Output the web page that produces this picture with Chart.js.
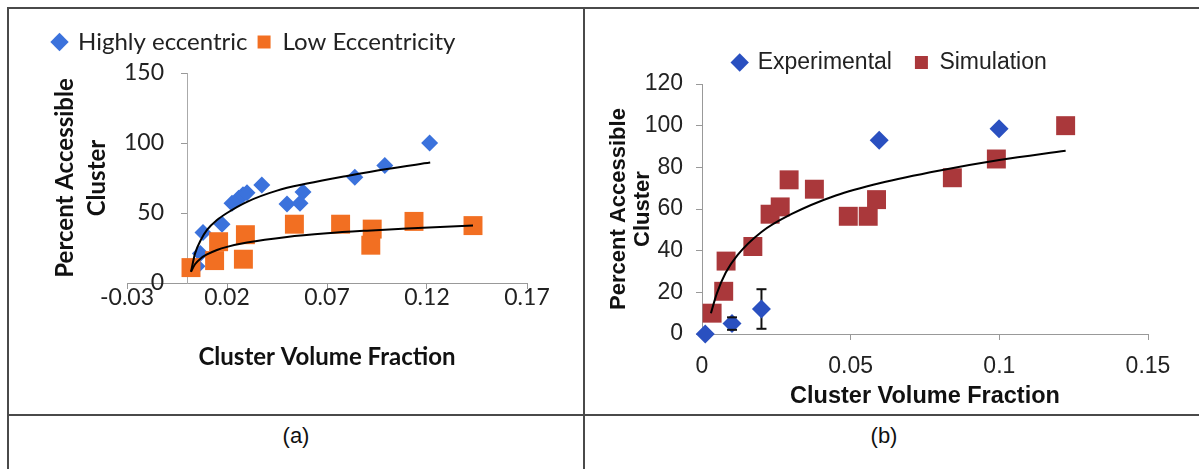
<!DOCTYPE html>
<html>
<head>
<meta charset="utf-8">
<script src="https://cdn.jsdelivr.net/npm/chart.js@4.4.1/dist/chart.umd.min.js"></script>
<style>
  html, body { margin: 0; padding: 0; background: #fff; overflow: hidden; }
  body { width: 1199px; height: 469px; position: relative; }
  .rule { position: absolute; background: #4a4a4a; }
  .cell { position: absolute; }
  .caption { position: absolute; font-family: "Liberation Sans", Arial, sans-serif; font-size: 22px; color: #111; transform: translateX(-50%); }
</style>
</head>
<body>
<div class="rule" style="left:7px;top:7px;width:1192px;height:2px"></div>
<div class="rule" style="left:7px;top:7px;width:2px;height:462px"></div>
<div class="rule" style="left:583px;top:7px;width:2px;height:462px"></div>
<div class="rule" style="left:7px;top:414px;width:1192px;height:2px"></div>

<div class="cell" style="left:10px;top:10px;width:572px;height:403px"><canvas id="chartA"></canvas></div>
<div class="cell" style="left:586px;top:10px;width:613px;height:403px"><canvas id="chartB"></canvas></div>

<div class="caption" style="left:296px;top:423px">(a)</div>
<div class="caption" style="left:884px;top:423px">(b)</div>

<script>
// panel (a)
const highX = [0.005, 0.0067, 0.008, 0.0175, 0.0225, 0.0258, 0.028, 0.030, 0.0374, 0.050, 0.0565, 0.058, 0.0839, 0.0989, 0.1213];
const highY = [12, 21, 36, 42, 57, 60.5, 63, 64.5, 70, 56.5, 57, 65, 75.5, 84, 100];
const lowX = [0.002, 0.0138, 0.0158, 0.0282, 0.0292, 0.0537, 0.0768, 0.0926, 0.0919, 0.1135, 0.143];
const lowY = [11, 16, 29.5, 17, 34.5, 42, 42, 38.5, 27, 44, 41];
// trend lines
const highFitX = [0.002, 0.004, 0.007, 0.01, 0.015, 0.02, 0.03, 0.045, 0.06, 0.08, 0.1, 0.1216];
const highFitY = [8, 21, 31, 38, 45, 50, 58, 66, 71, 76.5, 81.5, 86];
const lowFitX = [0.002, 0.004, 0.007, 0.01, 0.015, 0.02, 0.03, 0.05, 0.07, 0.09, 0.11, 0.143];
const lowFitY = [8, 13.4, 17.7, 20.4, 23.6, 25.8, 28.9, 32.9, 35.5, 37.4, 39, 41];
const xTicksA = [-0.03, 0.02, 0.07, 0.12, 0.17];

// panel (b)
const expX = [0.0011, 0.0101, 0.020, 0.0596, 0.0999];
const expY = [0, 5, 12, 93, 98.5];
const expErr = [0, 3, 9.5, 0, 0];
const simX = [0.0034, 0.0073, 0.0081, 0.0171, 0.0229, 0.0263, 0.0293, 0.0378, 0.0492, 0.0559, 0.0587, 0.0842, 0.099, 0.1223];
const simY = [10, 20.5, 35, 42, 57.5, 61, 74, 69.5, 56.5, 56.5, 64.5, 75, 84, 100];
const simFitX = [0.003, 0.005, 0.008, 0.012, 0.02, 0.03, 0.045, 0.06, 0.08, 0.1, 0.1223];
const simFitY = [10, 19.5, 29.5, 38, 49, 57.5, 66.5, 72.5, 78.5, 83.5, 88];
const xTicksB = [0, 0.05, 0.1, 0.15];

const pts = (xs, ys) => xs.map((x, i) => ({ x: x, y: ys[i] }));

const calibri = "Lato";
const arial = "'Liberation Sans', Arial, sans-serif";

const fitLine = (data) => ({
  label: "fit",
  data: data,
  showLine: true,
  borderColor: "#000",
  borderWidth: 2,
  pointRadius: 0,
  cubicInterpolationMode: "monotone",
  order: 0,
});

new Chart(document.getElementById("chartA"), {
  type: "scatter",
  data: {
    datasets: [
      fitLine(pts(highFitX, highFitY)),
      fitLine(pts(lowFitX, lowFitY)),
      {
        label: "Highly eccentric",
        data: pts(highX, highY),
        pointStyle: "rectRot",
        pointRadius: 8.5,
        backgroundColor: "#3b72dc",
        borderWidth: 0,
        clip: false,
        order: 2,
      },
      {
        label: "Low Eccentricity",
        data: pts(lowX, lowY),
        pointStyle: "rect",
        pointRadius: 13.4,
        backgroundColor: "#f26f22",
        borderWidth: 0,
        clip: false,
        order: 1,
      },
    ],
  },
  options: {
    responsive: true,
    maintainAspectRatio: false,
    animation: false,
    events: [],
    layout: { padding: { left: 33, right: 55, top: 10, bottom: 41 } },
    plugins: {
      tooltip: { enabled: false },
      legend: {
        position: "top",
        align: "start",
        labels: {
          usePointStyle: true,
          boxWidth: 13,
          boxHeight: 13,
          padding: 10,
          color: "#222",
          font: { family: calibri, size: 24 },
          filter: (item) => item.datasetIndex >= 2,
          sort: (a, b) => a.datasetIndex - b.datasetIndex,
        },
      },
    },
    scales: {
      x: {
        axis: "x",
        type: "linear",
        position: "bottom",
        min: -0.03,
        max: 0.17,
        afterBuildTicks: (s) => { s.ticks = xTicksA.map((value) => ({ value })); },
        ticks: {
          padding: -3,
          color: "#222",
          maxRotation: 0,
          autoSkip: false,
          font: { family: calibri, size: 23, lineHeight: 1 },
          callback: (v) => Number(v).toFixed(2),
        },
        grid: { drawOnChartArea: false, tickLength: 6, color: "#999" },
        border: { color: "#999" },
        title: {
          display: true,
          text: "Cluster Volume Fraction",
          color: "#111",
          padding: 0,
          font: { family: calibri, size: 24, weight: "bold", lineHeight: 1.25 },
        },
        afterFit: (s) => { s.height = 89; },
      },
      y: {
        axis: "y",
        type: "linear",
        position: { x: 0 },
        min: 0,
        max: 150,
        ticks: {
          stepSize: 50,
          color: "#222",
          font: { family: calibri, size: 23 },
          // labels of an axis placed at x = 0 sit on the line, so pad them with en spaces
          callback: (v) => v + "\u2002\u2002",
        },
        grid: { drawOnChartArea: false, tickLength: 6, color: "#999" },
        border: { color: "#aaa" },
      },
      yt: {
        axis: "y",
        type: "linear",
        position: "left",
        ticks: { display: false },
        grid: { display: false, drawTicks: false },
        border: { display: false },
        title: {
          display: true,
          text: ["Percent Accessible", "Cluster"],
          color: "#111",
          padding: { top: 6, bottom: 0 },
          font: { family: calibri, size: 24, weight: "bold", lineHeight: 1.333 },
        },
        afterFit: (s) => { s.width = 84; },
      },
      // empty top scale, only there to set the gap between legend and plot
      gap: {
        axis: "x",
        type: "linear",
        position: "top",
        ticks: { display: false },
        grid: { display: false, drawTicks: false },
        border: { display: false },
        afterFit: (s) => { s.height = 9; },
      },
    },
  },
});

// error bars for the experimental points, drawn through the chart's scales
const errorBars = {
  id: "errorBars",
  beforeDatasetsDraw(chart) {
    const { ctx, scales: { x, y } } = chart;
    ctx.save();
    ctx.strokeStyle = "#111";
    ctx.lineWidth = 2;
    expX.forEach((v, i) => {
      if (!expErr[i]) return;
      const px = x.getPixelForValue(v);
      ctx.beginPath();
      ctx.moveTo(px, y.getPixelForValue(expY[i] + expErr[i]));
      ctx.lineTo(px, y.getPixelForValue(expY[i] - expErr[i]));
      ctx.stroke();
    });
    ctx.restore();
  },
  afterDatasetsDraw(chart) {
    const { ctx, scales: { x, y } } = chart;
    ctx.save();
    ctx.strokeStyle = "#111";
    ctx.lineWidth = 2;
    expX.forEach((v, i) => {
      if (!expErr[i]) return;
      const px = x.getPixelForValue(v);
      [expY[i] + expErr[i], expY[i] - expErr[i]].forEach((e) => {
        const py = y.getPixelForValue(e);
        ctx.beginPath();
        ctx.moveTo(px - 5, py);
        ctx.lineTo(px + 5, py);
        ctx.stroke();
      });
    });
    ctx.restore();
  },
};

new Chart(document.getElementById("chartB"), {
  type: "scatter",
  data: {
    datasets: [
      fitLine(pts(simFitX, simFitY)),
      {
        label: "Experimental",
        data: pts(expX, expY),
        pointStyle: "rectRot",
        pointRadius: 9.5,
        backgroundColor: "#2a50c0",
        borderWidth: 0,
        clip: false,
        order: 1,
      },
      {
        label: "Simulation",
        data: pts(simX, simY),
        pointStyle: "rect",
        pointRadius: 13.4,
        backgroundColor: "#aa383b",
        borderWidth: 0,
        clip: false,
        order: 2,
      },
    ],
  },
  options: {
    responsive: true,
    maintainAspectRatio: false,
    animation: false,
    events: [],
    layout: { padding: { left: 46, right: 51, top: 41, bottom: 2 } },
    plugins: {
      tooltip: { enabled: false },
      legend: {
        position: "top",
        align: "center",
        labels: {
          usePointStyle: true,
          boxWidth: 13,
          boxHeight: 13,
          padding: 0,
          color: "#222",
          font: { family: arial, size: 23 },
          // no room for label padding here, so the gap after the first entry is an en-space pair
          generateLabels: (chart) =>
            Chart.defaults.plugins.legend.labels.generateLabels(chart).map((item) =>
              item.datasetIndex === 1 ? { ...item, text: item.text + "\u2002\u2002" } : item
            ),
          filter: (item) => item.datasetIndex >= 1,
          sort: (a, b) => a.datasetIndex - b.datasetIndex,
        },
      },
    },
    scales: {
      x: {
        type: "linear",
        position: "bottom",
        min: 0,
        max: 0.15,
        afterBuildTicks: (s) => { s.ticks = xTicksB.map((value) => ({ value })); },
        ticks: {
          padding: 13,
          color: "#222",
          maxRotation: 0,
          autoSkip: false,
          font: { family: arial, size: 23 },
          callback: (v) => String(Number(Number(v).toFixed(3))),
        },
        grid: { drawOnChartArea: false, tickLength: 6, color: "#999" },
        border: { color: "#999" },
        title: {
          display: true,
          text: "Cluster Volume Fraction",
          color: "#111",
          padding: 0,
          font: { family: arial, size: 23.5, weight: "bold", lineHeight: 1.2 },
        },
        afterFit: (s) => { s.height = 77; },
      },
      y: {
        type: "linear",
        position: "left",
        min: 0,
        max: 120,
        ticks: { stepSize: 20, padding: 13, color: "#222", font: { family: arial, size: 23 } },
        grid: { drawOnChartArea: false, tickLength: 6, color: "#999" },
        border: { color: "#999" },
        title: {
          display: true,
          text: ["Percent Accessible", "Cluster"],
          color: "#111",
          padding: { top: -25, bottom: 0 },
          font: { family: arial, size: 22, weight: "bold", lineHeight: 1.1 },
        },
        afterFit: (s) => { s.width = 70; },
      },
    },
  },
  plugins: [errorBars],
});
</script>
</body>
</html>
